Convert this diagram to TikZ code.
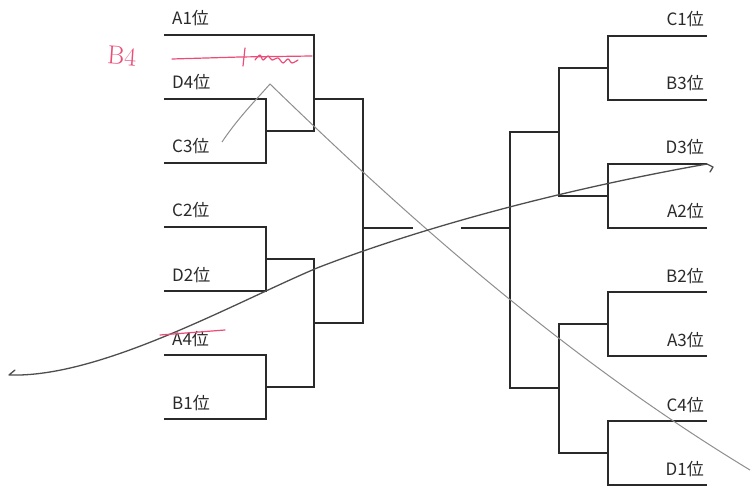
\documentclass[tikz,border=0pt]{standalone}
\usepackage{fontspec}
\newfontfamily\jpfont{Noto Sans CJK JP}
\usepackage{tikz}
\definecolor{ink}{HTML}{2A2A2A}
\definecolor{pen}{HTML}{EC4C78}
\definecolor{pencil}{HTML}{8E8E8E}
\definecolor{biro}{HTML}{4E4E4E}
\tikzstyle{seedL} = [anchor=base west, inner sep=0pt, font=\jpfont\fontsize{17}{17}\selectfont, text=ink]
\tikzstyle{seedR} = [seedL, anchor=base east]
\tikzstyle{bracket} = [draw=ink, line width=1.3pt]
\tikzstyle{redpen} = [draw=pen, line width=1.2pt, line cap=round, line join=round]

\begin{document}
\begin{tikzpicture}[x=1pt, y=-1pt]
\fill[white] (0,0) rectangle (751,486);
\useasboundingbox (0,0) rectangle (751,486);

% lato sinistro
\foreach \n/\y in {A1/35,D4/99,C3/163,C2/227,D2/291,A4/355,B1/419} {
  \coordinate (\n) at (164,\y);
  \node[seedL] (t\n) at (172,\y-10) {{\n}位};
}
\coordinate (jDC) at (266,131);
\coordinate (jCD) at (266,259);
\coordinate (jAB) at (266,387);
\coordinate (jTop) at (314,99);
\coordinate (jLow) at (314,323);
\coordinate (jL) at (363,228);
\coordinate (fL) at (413,228);

\draw[bracket] (D4) -| (jDC) |- (C3);
\draw[bracket] (C2) -| (jCD) |- (D2);
\draw[bracket] (A4) -| (jAB) |- (B1);
\draw[bracket] (A1) -| (jTop) |- (jDC);
\draw[bracket] (jCD) -| (jLow) |- (jAB);
\draw[bracket] (jTop) -| (jL) |- (jLow);
\draw[bracket] (jL) -- (fL);

% lato destro
\foreach \n/\y in {C1/36,B3/100,D3/164,A2/228,B2/292,A3/356,C4/421,D1/485} {
  \coordinate (\n) at (707,\y);
  \node[seedR] (t\n) at (704,\y-10) {{\n}位};
}
\coordinate (rCB) at (608,68);
\coordinate (rDA) at (608,196);
\coordinate (rBA) at (608,324);
\coordinate (rCD) at (608,453);
\coordinate (rTop) at (559,132);
\coordinate (rLow) at (559,388);
\coordinate (jR) at (510,228);
\coordinate (fR) at (461,228);

\draw[bracket] (C1) -| (rCB) |- (B3);
\draw[bracket] (D3) -| (rDA) |- (A2);
\draw[bracket] (B2) -| (rBA) |- (A3);
\draw[bracket] (C4) -| (rCD) |- (D1);
\draw[bracket] (rCB) -| (rTop) |- (rDA);
\draw[bracket] (rBA) -| (rLow) |- (rCD);
\draw[bracket] (rTop) -| (jR) |- (rLow);
\draw[bracket] (jR) -- (fR);

% segni a mano
\draw[pencil, line width=1pt] (222,142) .. controls (238,118) and (256,100) .. (270,84)
  .. controls (400,210) and (560,355) .. (750,470);
\draw[biro, line width=1.3pt, line cap=round, line join=round] (15,370) -- (9,375)
  .. controls (100,378) and (230,305) .. (317,268)
  .. controls (420,228) and (560,190) .. (707,164) -- (713,167) -- (710,172);

\node[text=pen, font=\fontsize{26}{26}\selectfont, inner sep=0pt, rotate=-4] (note) at (122,56) {B4};
\draw[redpen] (172,59) -- (240,57) -- (312,56);
\draw[redpen] (245,48) -- (243,66);
\draw[redpen] plot[smooth] coordinates {(255,60) (260,55) (263,60) (268,56) (272,60) (278,58)
  (283,63) (288,59) (292,63) (298,60)};
\draw[redpen] (160,335) -- (225,330);
\end{tikzpicture}
\end{document}
